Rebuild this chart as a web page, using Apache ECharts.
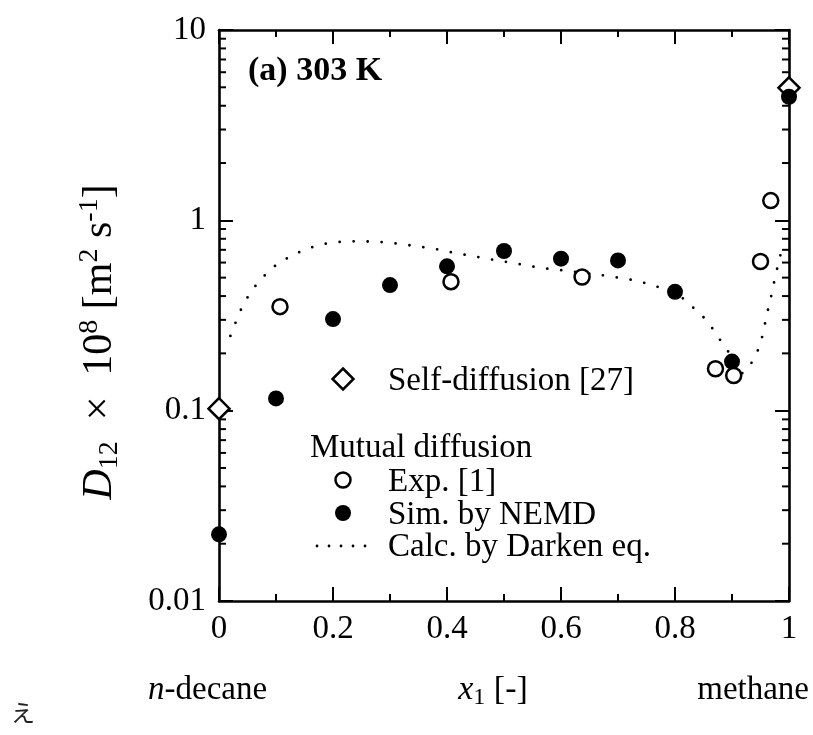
<!DOCTYPE html>
<html><head><meta charset="utf-8">
<script src="https://cdn.jsdelivr.net/npm/echarts@6/dist/echarts.min.js"></script>
<style>html,body{margin:0;padding:0;background:#fff}#c{width:813px;height:735px}</style>
</head><body><div id="c"></div>
<script>
// ---- data ----
const xTickLabels = ['0', '0.2', '0.4', '0.6', '0.8', '1'];
const yTickLabels = ['0.01', '0.1', '1', '10'];
const yMinorTicks = [0.02, 0.03, 0.04, 0.05, 0.06, 0.07, 0.08, 0.09,
                     0.2, 0.3, 0.4, 0.5, 0.6, 0.7, 0.8, 0.9,
                     2, 3, 4, 5, 6, 7, 8, 9];
// self-diffusion [27]
const selfX = [0, 1];
const selfY = [0.1025, 4.97];
// Exp. [1]
const expX = [0.107, 0.407, 0.637, 0.871, 0.903, 0.950, 0.968];
const expY = [0.352, 0.476, 0.504, 0.166, 0.153, 0.608, 1.27];
// Sim. by NEMD
const simX = [0, 0.1, 0.2, 0.3, 0.4, 0.5, 0.6, 0.7, 0.8, 0.9, 1.0];
const simY = [0.0224, 0.116, 0.303, 0.457, 0.573, 0.690, 0.629, 0.616, 0.421, 0.181, 4.46];
// Calc. by Darken eq.
const darkenX = [0.020, 0.029, 0.039, 0.051, 0.065, 0.082, 0.100, 0.122, 0.145, 0.168,
                 0.193, 0.218, 0.244, 0.269, 0.293, 0.318, 0.344, 0.368, 0.393, 0.417,
                 0.443, 0.468, 0.492, 0.515, 0.542, 0.566, 0.592, 0.616, 0.666, 0.692,
                 0.717, 0.741, 0.765, 0.790, 0.811, 0.830, 0.849, 0.864, 0.878, 0.893,
                 0.905, 0.915, 0.928, 0.941, 0.950, 0.956, 0.961, 0.967, 0.972, 0.978,
                 0.984, 0.990];
const darkenY = [0.247, 0.290, 0.342, 0.398, 0.457, 0.520, 0.582, 0.638, 0.690, 0.730,
                 0.760, 0.773, 0.776, 0.773, 0.766, 0.751, 0.733, 0.716, 0.695, 0.670,
                 0.652, 0.629, 0.614, 0.597, 0.578, 0.561, 0.551, 0.540, 0.518, 0.504,
                 0.491, 0.474, 0.452, 0.425, 0.395, 0.352, 0.312, 0.275, 0.238, 0.205,
                 0.168, 0.156, 0.167, 0.194, 0.226, 0.269, 0.319, 0.378, 0.446, 0.539,
                 0.640, 0.760];

// ---- chart ----
const FONT = '"Liberation Serif", "Times New Roman", serif';
const pairs = (xs, ys) => xs.map((x, i) => [x, ys[i]]);
const chart = echarts.init(document.getElementById('c'), null, {renderer: 'canvas'});

const axisLine = {show: true, onZero: false, lineStyle: {color: '#000', width: 2.6}};
const majorTick = {show: true, inside: true, length: 14, lineStyle: {color: '#000', width: 2}};
const minorTickX = {show: true, splitNumber: 2, length: 7, lineStyle: {color: '#000', width: 2}};

const xBase = {type: 'value', min: 0, max: 1, interval: 0.2,
  axisLine: axisLine, axisTick: majorTick, minorTick: minorTickX,
  splitLine: {show: false}, minorSplitLine: {show: false}};
const yBase = {type: 'log', logBase: 10, min: 0.01, max: 10,
  axisLine: axisLine, axisTick: majorTick, minorTick: {show: false},
  splitLine: {show: false}, minorSplitLine: {show: false}};

const option = {
  animation: false,
  backgroundColor: '#fff',
  grid: {left: 219, top: 30, right: 24, bottom: 134, containLabel: false},
  xAxis: [
    Object.assign({}, xBase, {position: 'bottom',
      axisLabel: {show: true, margin: 12, color: '#000', fontFamily: FONT, fontSize: 33,
        formatter: v => xTickLabels[Math.round(v / 0.2)]}}),
    Object.assign({}, xBase, {position: 'top', axisLabel: {show: false}})
  ],
  yAxis: [
    Object.assign({}, yBase, {position: 'left',
      axisLabel: {show: true, margin: 13, color: '#000', fontFamily: FONT, fontSize: 33,
        formatter: v => yTickLabels[Math.round(Math.log10(v)) + 2]}}),
    Object.assign({}, yBase, {position: 'right', axisLabel: {show: false}})
  ],
  series: [
    {
      type: 'custom', name: 'minorTicks', silent: true, clip: false, z: 1,
      xAxisIndex: 0, yAxisIndex: 0,
      data: yMinorTicks.map(v => [0, v]),
      renderItem: function (params, api) {
        const v = api.value(1);
        const pl = api.coord([0, v]);
        const pr = api.coord([1, v]);
        const st = {stroke: '#000', lineWidth: 2};
        return {type: 'group', children: [
          {type: 'line', shape: {x1: pl[0], y1: pl[1], x2: pl[0] + 7, y2: pl[1]}, style: st},
          {type: 'line', shape: {x1: pr[0], y1: pr[1], x2: pr[0] - 7, y2: pr[1]}, style: st}
        ]};
      }
    },
    {
      type: 'line', name: 'Calc. by Darken eq.', data: pairs(darkenX, darkenY),
      symbol: 'none', smooth: 0.2, silent: true, z: 2,
      lineStyle: {color: '#000', width: 2.8, type: [0, 14], cap: 'round', opacity: 1}
    },
    {
      type: 'scatter', name: 'Self-diffusion [27]', data: pairs(selfX, selfY),
      symbol: 'diamond', symbolSize: 21, clip: false, z: 3,
      itemStyle: {color: '#fff', borderColor: '#000', borderWidth: 2.5, opacity: 1}
    },
    {
      type: 'scatter', name: 'Sim. by NEMD', data: pairs(simX, simY),
      symbol: 'circle', symbolSize: 16, clip: false, z: 4,
      itemStyle: {color: '#000', opacity: 1}
    },
    {
      type: 'scatter', name: 'Exp. [1]', data: pairs(expX, expY),
      symbol: 'circle', symbolSize: 15, clip: false, z: 5,
      itemStyle: {color: '#fff', borderColor: '#000', borderWidth: 2.5, opacity: 1}
    }
  ],
  graphic: [
    // panel label
    {type: 'text', left: 248, top: 54, z: 10,
      style: {text: '(a) 303 K', font: 'bold 34px ' + FONT, fill: '#000'}},
    // legend: self-diffusion
    {type: 'polygon', z: 10, shape: {points: [[343, 368.5], [353.5, 379], [343, 389.5], [332.5, 379]]},
      style: {fill: '#fff', stroke: '#000', lineWidth: 2.5}},
    {type: 'text', x: 388, y: 381, z: 10,
      style: {text: 'Self-diffusion [27]', font: '33px ' + FONT, fill: '#000', align: 'left', verticalAlign: 'middle'}},
    // legend: mutual diffusion
    {type: 'text', x: 310, y: 448, z: 10,
      style: {text: 'Mutual diffusion', font: '33px ' + FONT, fill: '#000', align: 'left', verticalAlign: 'middle'}},
    {type: 'circle', z: 10, shape: {cx: 343, cy: 480, r: 7.5},
      style: {fill: '#fff', stroke: '#000', lineWidth: 2.5}},
    {type: 'text', x: 388, y: 482, z: 10,
      style: {text: 'Exp. [1]', font: '33px ' + FONT, fill: '#000', align: 'left', verticalAlign: 'middle'}},
    {type: 'circle', z: 10, shape: {cx: 343, cy: 513, r: 8}, style: {fill: '#000'}},
    {type: 'text', x: 388, y: 515, z: 10,
      style: {text: 'Sim. by NEMD', font: '33px ' + FONT, fill: '#000', align: 'left', verticalAlign: 'middle'}},
    {type: 'line', z: 10, shape: {x1: 317, y1: 546, x2: 377, y2: 546},
      style: {stroke: '#000', lineWidth: 2.8, lineDash: [0, 12], lineCap: 'round'}},
    {type: 'text', x: 388, y: 547, z: 10,
      style: {text: 'Calc. by Darken eq.', font: '33px ' + FONT, fill: '#000', align: 'left', verticalAlign: 'middle'}},
    // y-axis title (rotated)
    {type: 'text', x: 100, y: 342, rotation: Math.PI / 2, z: 10,
      style: {
        text: '{i|D}{sub|12}{n|  ×  10}{sup|8}{n| [m}{sup|2}{n| s}{sup|-1}{n|]}',
        align: 'center', verticalAlign: 'middle', fill: '#000',
        rich: {
          i: {fontFamily: FONT, fontSize: 42, fontStyle: 'italic', lineHeight: 48, fill: '#000'},
          n: {fontFamily: FONT, fontSize: 42, lineHeight: 48, fill: '#000'},
          sub: {fontFamily: FONT, fontSize: 28, lineHeight: 28, verticalAlign: 'bottom', fill: '#000'},
          sup: {fontFamily: FONT, fontSize: 28, lineHeight: 28, verticalAlign: 'top', fill: '#000'}
        }
      }},
    // x-axis title and component labels
    {type: 'text', x: 493, y: 690, z: 10,
      style: {
        text: '{i|x}{sub|1}{n| [-]}', align: 'center', verticalAlign: 'middle', fill: '#000',
        rich: {
          i: {fontFamily: FONT, fontSize: 34, fontStyle: 'italic', lineHeight: 40, fill: '#000'},
          n: {fontFamily: FONT, fontSize: 34, lineHeight: 40, fill: '#000'},
          sub: {fontFamily: FONT, fontSize: 24, lineHeight: 24, verticalAlign: 'bottom', fill: '#000'}
        }
      }},
    {type: 'text', x: 148, y: 690, z: 10,
      style: {
        text: '{i|n}{n|-decane}', align: 'left', verticalAlign: 'middle', fill: '#000',
        rich: {
          i: {fontFamily: FONT, fontSize: 33, fontStyle: 'italic', fill: '#000'},
          n: {fontFamily: FONT, fontSize: 33, fill: '#000'}
        }
      }},
    {type: 'text', x: 809, y: 690, z: 10,
      style: {text: 'methane', font: '33px ' + FONT, fill: '#000', align: 'right', verticalAlign: 'middle'}},
    {type: 'text', x: 11, y: 713, z: 10,
      style: {text: 'え', font: '24px "Noto Sans CJK JP"', fill: '#222', align: 'left', verticalAlign: 'middle'}}
  ]
};
chart.setOption(option);
</script>
</body></html>
